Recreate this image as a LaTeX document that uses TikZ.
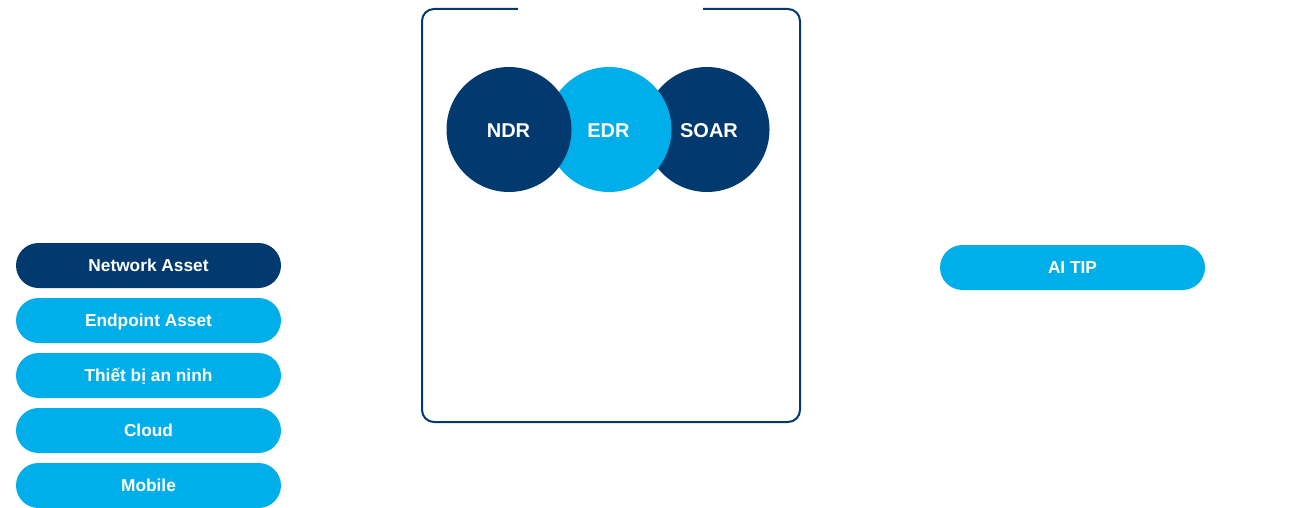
\documentclass[tikz,border=0pt]{standalone}
\usepackage{fontspec}
\setmainfont{Liberation Sans}
\definecolor{navy}{HTML}{023A70}
\definecolor{sky}{HTML}{00AEEA}
\begin{document}
\begin{tikzpicture}[x=1pt,y=-1pt,
  pill/.style={rounded corners=22.5pt,minimum width=265pt,minimum height=45pt,inner sep=0pt,text height=12.3pt,text depth=0pt,text=white,font=\fontsize{17.3}{19}\selectfont\bfseries},
  bubble/.style={circle,minimum size=125pt,inner sep=0pt},
  blabel/.style={inner sep=0pt,text height=14.3pt,text depth=0pt,text=white,font=\fontsize{20}{22}\selectfont\bfseries},
  frame/.style={draw=navy,line width=2pt}]
\useasboundingbox (0,0) rectangle (1313,508);
% frame with gap at top
\coordinate (gl) at (518,9);
\coordinate (gr) at (703,9);
\draw[frame,rounded corners=12pt] (gl) -- (422,9) -- (422,422) -- (800,422) -- (800,9) -- (gr);
% circles
\node[bubble,fill=navy] (soar) at (707,129.5) {};
\node[bubble,fill=sky] (edr) at (609,129.5) {};
\node[bubble,fill=navy] (ndr) at (509,129.5) {};
\node[blabel] (tndr) at (508.5,130.5) {NDR};
\node[blabel] (tedr) at (608.5,130.5) {EDR};
\node[blabel] (tsoar) at (709,130.5) {SOAR};
% pills
\node[pill,fill=navy] (net) at (148.5,265.5) {Network Asset};
\node[pill,fill=sky] (end) at (148.5,320.5) {Endpoint Asset};
\node[pill,fill=sky] (sec) at (148.5,375.5) {Thiết bị an ninh};
\node[pill,fill=sky] (cloud) at (148.5,430.5) {Cloud};
\node[pill,fill=sky] (mob) at (148.5,485.5) {Mobile};
\node[pill,fill=sky] (tip) at (1072.5,267.5) {AI TIP};
\end{tikzpicture}
\end{document}
